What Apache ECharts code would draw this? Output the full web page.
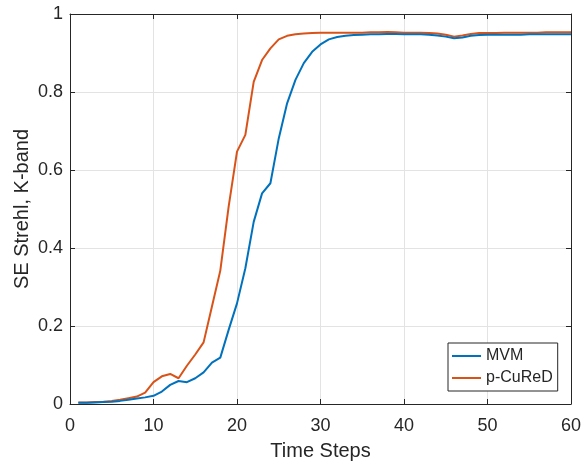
<!DOCTYPE html>
<html>
<head>
<meta charset="utf-8">
<script src="https://cdn.jsdelivr.net/npm/echarts@6/dist/echarts.min.js"></script>
<style>
  html, body { margin: 0; padding: 0; background: #fff; }
  #chart { width: 582px; height: 461px; }
</style>
</head>
<body>
<div id="chart"></div>
<script>
// Time steps 1..60
const timeSteps = [];
for (let t = 1; t <= 60; t++) timeSteps.push(t);

// Short-exposure Strehl ratio in K band per time step
const mvm = [
  0.003, 0.003, 0.004, 0.005, 0.006, 0.008, 0.011, 0.014, 0.017, 0.021,
  0.032, 0.049, 0.059, 0.056, 0.066, 0.081, 0.106, 0.119, 0.190, 0.258,
  0.348, 0.467, 0.540, 0.566, 0.681, 0.771, 0.831, 0.874, 0.903, 0.922,
  0.935, 0.941, 0.944, 0.946, 0.947, 0.948, 0.948, 0.949, 0.949, 0.948,
  0.948, 0.948, 0.947, 0.945, 0.942, 0.938, 0.940, 0.944, 0.946, 0.947,
  0.947, 0.947, 0.947, 0.947, 0.948, 0.948, 0.948, 0.948, 0.948, 0.948
];
const pCuReD = [
  0.004, 0.004, 0.005, 0.006, 0.008, 0.011, 0.015, 0.019, 0.029, 0.056,
  0.071, 0.077, 0.066, 0.098, 0.127, 0.158, 0.250, 0.342, 0.506, 0.647,
  0.690, 0.826, 0.882, 0.912, 0.935, 0.944, 0.948, 0.950, 0.951, 0.952,
  0.952, 0.952, 0.952, 0.952, 0.952, 0.953, 0.953, 0.954, 0.953, 0.952,
  0.952, 0.952, 0.951, 0.950, 0.947, 0.942, 0.945, 0.949, 0.951, 0.951,
  0.951, 0.952, 0.952, 0.952, 0.952, 0.952, 0.953, 0.953, 0.953, 0.953
];

const xTicks = [0, 10, 20, 30, 40, 50, 60];
const yTicks = [0, 0.2, 0.4, 0.6, 0.8, 1];

const FONT = '"Liberation Sans", Arial, sans-serif';
const TEXT = '#262626';
const FRAME = '#262626';
const GRID = '#e3e3e3';

const chart = echarts.init(document.getElementById('chart'), null, { renderer: 'canvas' });

const pairs = (ys) => timeSteps.map((t, i) => [t, ys[i]]);

const frameAxis = {
  axisLine: { show: true, onZero: false, lineStyle: { color: FRAME, width: 1 } },
  axisTick: { show: true, inside: true, length: 5, lineStyle: { color: FRAME, width: 1 } },
  axisLabel: { show: false },
  splitLine: { show: false }
};

chart.setOption({
  animation: false,
  backgroundColor: '#fff',
  textStyle: { fontFamily: FONT, color: TEXT },
  grid: {
    left: 70, right: 11, top: 14, bottom: 57,
    containLabel: false, outerBoundsMode: 'none'
  },
  xAxis: [
    {
      type: 'value', position: 'bottom',
      min: xTicks[0], max: xTicks[xTicks.length - 1], interval: 10,
      name: 'Time Steps', nameLocation: 'middle', nameGap: 37,
      nameMoveOverlap: false,
      nameTextStyle: { fontFamily: FONT, fontSize: 20, color: TEXT },
      axisLine: { show: true, onZero: false, lineStyle: { color: FRAME, width: 1 } },
      axisTick: { show: true, inside: true, length: 5, lineStyle: { color: FRAME } },
      axisLabel: { fontFamily: FONT, fontSize: 18, color: TEXT, margin: 13 },
      splitLine: { show: true, lineStyle: { color: GRID, width: 1 } }
    },
    Object.assign({
      type: 'value', position: 'top',
      min: xTicks[0], max: xTicks[xTicks.length - 1], interval: 10
    }, frameAxis)
  ],
  yAxis: [
    {
      type: 'value', position: 'left',
      min: yTicks[0], max: yTicks[yTicks.length - 1], interval: 0.2,
      name: 'SE Strehl, K-band', nameLocation: 'middle', nameGap: 38,
      nameMoveOverlap: false,
      nameTextStyle: { fontFamily: FONT, fontSize: 20, color: TEXT },
      axisLine: { show: true, onZero: false, lineStyle: { color: FRAME, width: 1 } },
      axisTick: { show: true, inside: true, length: 5, lineStyle: { color: FRAME } },
      axisLabel: {
        fontFamily: FONT, fontSize: 18, color: TEXT, margin: 7,
        formatter: (v) => String(Math.round(v * 10) / 10)
      },
      splitLine: { show: true, lineStyle: { color: GRID, width: 1 } }
    },
    Object.assign({
      type: 'value', position: 'right',
      min: yTicks[0], max: yTicks[yTicks.length - 1], interval: 0.2
    }, frameAxis)
  ],
  legend: {
    orient: 'vertical',
    left: 448, top: 343,
    padding: [4, 5, 4, 4],
    itemGap: 4,
    itemWidth: 29, itemHeight: 2,
    itemTextGap: 3,
    icon: 'rect',
    backgroundColor: '#fff',
    borderColor: FRAME, borderWidth: 1, borderRadius: 0,
    textStyle: { fontFamily: FONT, fontSize: 16, color: TEXT, lineHeight: 18 },
    data: ['MVM', 'p-CuReD']
  },
  series: [
    {
      name: 'MVM', type: 'line', data: pairs(mvm),
      showSymbol: false, symbol: 'none', smooth: false,
      color: '#0072BD',
      lineStyle: { color: '#0072BD', width: 2 },
      itemStyle: { color: '#0072BD' },
      z: 3
    },
    {
      name: 'p-CuReD', type: 'line', data: pairs(pCuReD),
      showSymbol: false, symbol: 'none', smooth: false,
      color: '#D95319',
      lineStyle: { color: '#D95319', width: 2 },
      itemStyle: { color: '#D95319' },
      z: 2
    }
  ]
});
</script>
</body>
</html>
